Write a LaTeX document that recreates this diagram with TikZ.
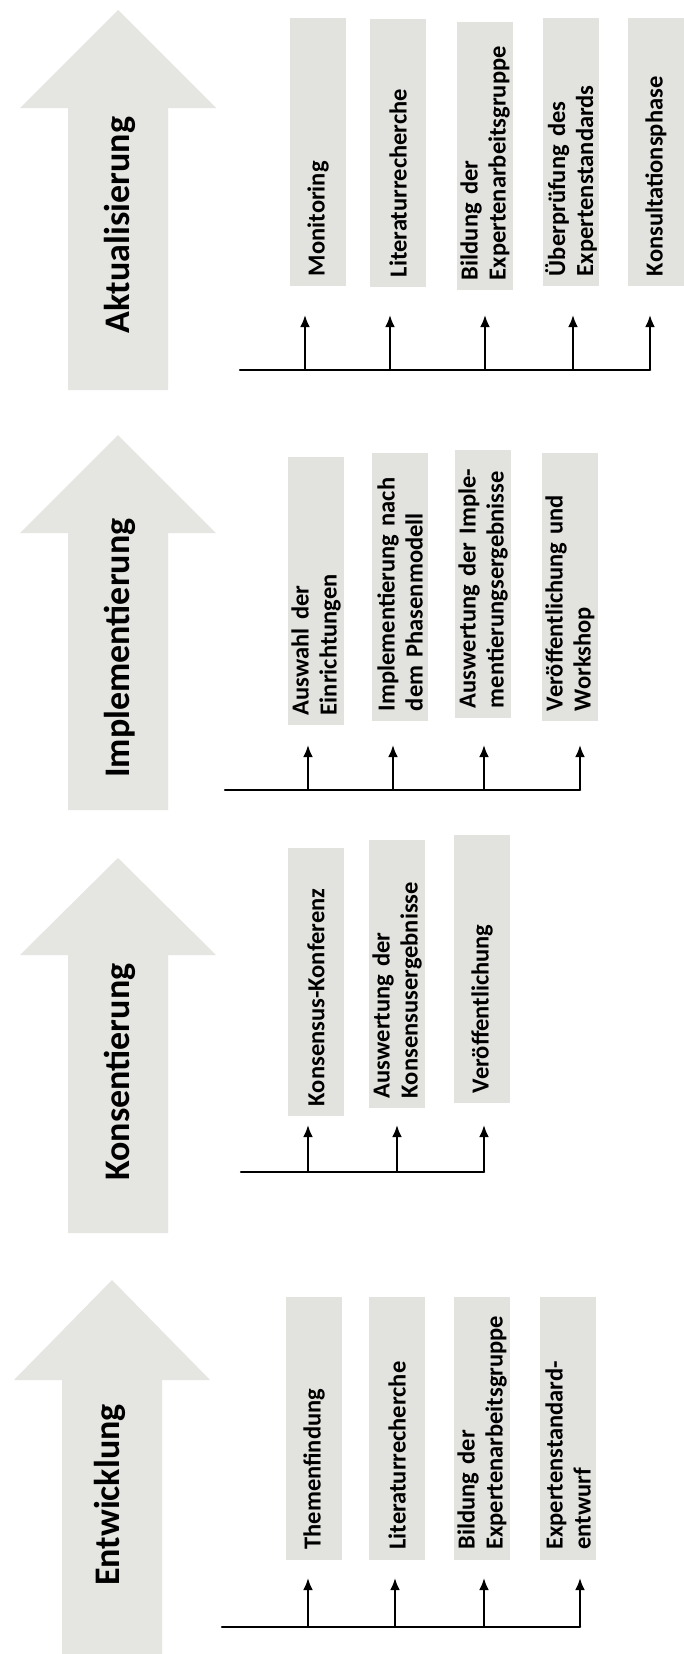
\documentclass[tikz,border=0pt]{standalone}
\usepackage{fontspec}
\setmainfont{Carlito}
\usetikzlibrary{arrows.meta}
\definecolor{arrowgray}{RGB}{229,229,226}
\definecolor{boxgray}{RGB}{226,226,223}
\hyphenpenalty=10000
\exhyphenpenalty=10000
\newcommand\phasearrow[4]{%
  \fill[arrowgray] (#1,#2) -- (#1+98,#3) -- (#1+50,#3) -- (#1+50,#4)
    -- (#1-50,#4) -- (#1-50,#3) -- (#1-98,#3) -- cycle;}
\tikzset{
  stepbox/.style={rotate=90, fill=boxgray, minimum height=56pt, inner xsep=10pt,
    inner ysep=0pt, text width=#1, align=left,
    font=\fontsize{24.5}{28}\selectfont\bfseries},
  phaselabel/.style={rotate=90, font=\fontsize{36}{44}\selectfont\bfseries},
  rail/.style={line width=2.5pt, line cap=round},
  feed/.style={line width=2.5pt, -{Latex[length=12pt,width=10pt]}},
}
\begin{document}
\begin{tikzpicture}[x=1pt,y=-1pt]
\useasboundingbox (0,0) rectangle (684,1654);
\fill[white] (0,0) rectangle (684,1654);

% ---------- phase arrows ----------
\phasearrow{118}{10}{108}{390}
\phasearrow{118}{435}{533}{810}
\phasearrow{118}{858}{955}{1233}
\phasearrow{112}{1280}{1380}{1654}

\node[phaselabel] (pA) at (120,225) {Aktualisierung};
\node[phaselabel] (pI) at (120,648) {Implementierung};
\node[phaselabel] (pK) at (120,1072) {Konsentierung};
\node[phaselabel] (pE) at (110,1495) {Entwicklung};

% ---------- Aktualisierung ----------
\node[stepbox=248pt] (a1) at (318,152) {Monitoring};
\node[stepbox=248pt] (a2) at (398,153) {Literaturrecherche};
\node[stepbox=248pt] (a3) at (485,156) {Bildung der\\Expertenarbeitsgruppe};
\node[stepbox=248pt] (a4) at (571,152) {Überprüfung des\\Expertenstandards};
\node[stepbox=248pt] (a5) at (656,152) {Konsultationsphase};
\coordinate (aL) at (240,370);
\coordinate (aR) at (650,370);
\draw[rail] (aL) -- (aR);
\foreach \i/\x in {1/305,2/390,3/485,4/573,5/650}{
  \coordinate (ab\i) at (\x,370);
  \coordinate (at\i) at (\x,315);
  \draw[feed] (ab\i) -- (at\i);
}

% ---------- Implementierung ----------
\node[stepbox=248pt] (i1) at (316,591) {Auswahl der\\Einrichtungen};
\node[stepbox=248pt] (i2) at (400,587) {Implementierung nach\\dem Phasenmodell};
\node[stepbox=248pt] (i3) at (483,584) {Auswertung der Imple-\\mentierungsergebnisse};
\node[stepbox=248pt] (i4) at (570,587) {Veröffentlichung und\\Workshop};
\coordinate (iL) at (225,790);
\coordinate (iR) at (580,790);
\draw[rail] (iL) -- (iR);
\foreach \i/\x in {1/308,2/393,3/484,4/580}{
  \coordinate (ib\i) at (\x,790);
  \coordinate (it\i) at (\x,745);
  \draw[feed] (ib\i) -- (it\i);
}

% ---------- Konsentierung ----------
\node[stepbox=248pt] (k1) at (316,982) {Konsensus-Konferenz};
\node[stepbox=248pt] (k2) at (397,974) {Auswertung der\\Konsensusergebnisse};
\node[stepbox=248pt] (k3) at (482,969) {Veröffentlichung};
\coordinate (kL) at (241,1172);
\coordinate (kR) at (484,1172);
\draw[rail] (kL) -- (kR);
\foreach \i/\x in {1/308,2/397,3/484}{
  \coordinate (kb\i) at (\x,1172);
  \coordinate (kt\i) at (\x,1125);
  \draw[feed] (kb\i) -- (kt\i);
}

% ---------- Entwicklung ----------
\node[stepbox=243pt] (e1) at (314,1428) {Themenfindung};
\node[stepbox=243pt] (e2) at (397,1428) {Literaturrecherche};
\node[stepbox=243pt] (e3) at (482,1428) {Bildung der\\Expertenarbeitsgruppe};
\node[stepbox=243pt] (e4) at (568,1428) {Expertenstandard-\\entwurf};
\coordinate (eL) at (222,1627);
\coordinate (eR) at (580,1627);
\draw[rail] (eL) -- (eR);
\foreach \i/\x in {1/308,2/395,3/484,4/580}{
  \coordinate (eb\i) at (\x,1627);
  \coordinate (et\i) at (\x,1578);
  \draw[feed] (eb\i) -- (et\i);
}
\end{tikzpicture}
\end{document}
